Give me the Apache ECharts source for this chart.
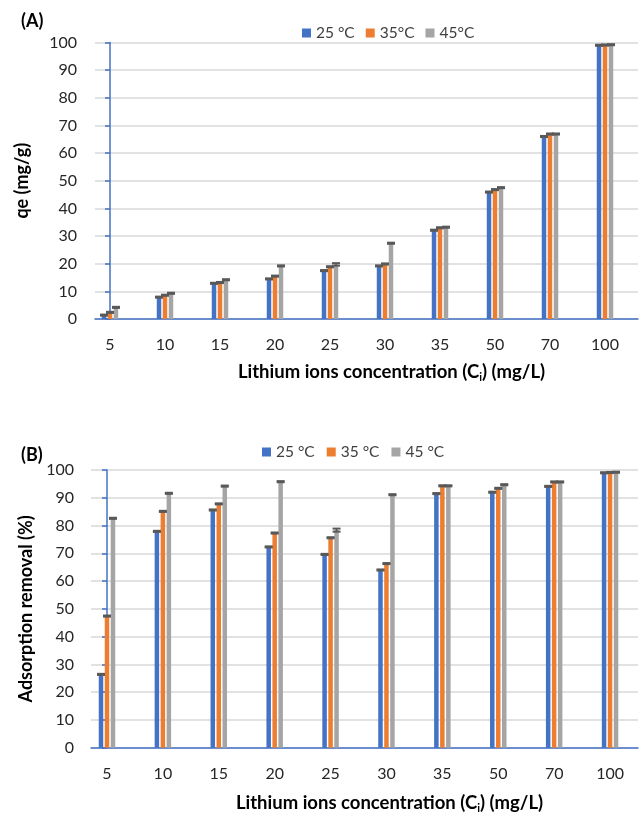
<!DOCTYPE html>
<html><head><meta charset="utf-8">
<script src="https://cdn.jsdelivr.net/npm/echarts@6/dist/echarts.min.js"></script>
<style>html,body{margin:0;padding:0;background:#fff}#c{width:640px;height:815px}</style>
</head><body><div id="c"></div>
<script>
// ---- data ----
const categories = ['5','10','15','20','25','30','35','50','70','100'];
const legendA = ['25 °C','35°C','45°C'];
const legendB = ['25 °C','35 °C','45 °C'];
// (A) qe (mg/g)
const qe25 = [1.4, 7.9, 12.9, 14.5, 17.5, 19.2, 32.1, 45.9, 66.0, 99.0];
const qe35 = [2.4, 8.6, 13.2, 15.5, 18.9, 19.9, 33.0, 46.8, 66.9, 99.1];
const qe45 = [4.2, 9.3, 14.2, 19.2, 19.75, 27.4, 33.2, 47.5, 66.9, 99.2];
const qeErr25 = [0.2, 0.2, 0.2, 0.2, 0.2, 0.2, 0.2, 0.2, 0.2, 0.2];
const qeErr35 = [0.2, 0.2, 0.2, 0.2, 0.2, 0.2, 0.2, 0.2, 0.2, 0.2];
const qeErr45 = [0.2, 0.2, 0.2, 0.2, 0.45, 0.2, 0.2, 0.2, 0.2, 0.2];
// (B) adsorption removal (%)
const rem25 = [26.4, 77.9, 85.6, 72.3, 69.6, 64.0, 91.5, 92.0, 94.1, 99.0];
const rem35 = [47.4, 85.1, 87.8, 77.3, 75.6, 66.3, 94.3, 93.4, 95.7, 99.1];
const rem45 = [82.6, 91.6, 94.2, 95.8, 78.35, 91.1, 94.3, 94.7, 95.7, 99.2];
const remErr25 = [0.2, 0.2, 0.2, 0.2, 0.2, 0.2, 0.2, 0.2, 0.2, 0.2];
const remErr35 = [0.2, 0.2, 0.2, 0.2, 0.2, 0.2, 0.2, 0.2, 0.2, 0.2];
const remErr45 = [0.2, 0.2, 0.2, 0.2, 0.55, 0.2, 0.2, 0.2, 0.2, 0.2];
const yTickInterval = 10;

// ---- style ----
const COLORS = ['#4472C4', '#ED7D31', '#A5A5A5'];
const FONT = 'Lato';
const BAR_W = 4.5, BAR_GAP = 0.33;
const STEP = BAR_W * (1 + BAR_GAP);

const chart = echarts.init(document.getElementById('c'), null, {renderer: 'canvas'});

function pts(arr) { return arr.map((v, i) => [i, v]); }
function errPts(vals, errs) { return vals.map((v, i) => [i, v, errs[i]]); }
function errRender(offset) {
  return function (params, api) {
    const x = api.value(0), v = api.value(1), e = api.value(2);
    const hi = api.coord([x, v + e]), lo = api.coord([x, v - e]);
    const cx = hi[0] + offset, hw = 4;
    const st = {stroke: '#595959', lineWidth: 2};
    return {type: 'group', children: [
      {type: 'line', shape: {x1: cx, y1: hi[1], x2: cx, y2: lo[1]}, style: {stroke: '#595959', lineWidth: 1.5}},
      {type: 'line', shape: {x1: cx - hw, y1: hi[1], x2: cx + hw, y2: hi[1]}, style: st},
      {type: 'line', shape: {x1: cx - hw, y1: lo[1], x2: cx + hw, y2: lo[1]}, style: st}
    ]};
  };
}
function barSeries(name, data, idx, g) {
  return {type: 'bar', name: name, xAxisIndex: g, yAxisIndex: g, data: pts(data),
    barWidth: BAR_W, barGap: (BAR_GAP * 100) + '%', itemStyle: {color: COLORS[idx]}, z: 2};
}
function errSeries(vals, errs, idx, g) {
  return {type: 'custom', xAxisIndex: g, yAxisIndex: g, data: errPts(vals, errs),
    renderItem: errRender((idx - 1) * STEP), encode: {x: 0, y: 1}, z: 5, silent: true, clip: false};
}
const xName = '{b|Lithium ions concentration (C}{s|i}{b|) (mg/L)}';
const xNameStyle = {padding: [0, 0, 0, 50], rich: {
  b: {fontFamily: FONT, fontWeight: 'bold', fontSize: 18.5, color: '#000', lineHeight: 22},
  s: {fontFamily: FONT, fontWeight: 'bold', fontSize: 11, color: '#000', verticalAlign: 'bottom', lineHeight: 15}
}};
function xAxis(g, min, max, nameGap) {
  return {type: 'value', gridIndex: g, min: min, max: max,
    splitLine: {show: false}, axisTick: {show: false},
    axisLine: {lineStyle: {color: '#4472C4', width: 1.5}},
    axisLabel: {customValues: categories.map((c, i) => i), formatter: v => categories[Math.round(v)],
      margin: 18, fontFamily: FONT, fontSize: 16, color: '#262626'},
    name: xName, nameLocation: 'middle', nameGap: nameGap, nameTextStyle: xNameStyle};
}
function yAxis(g, name, nameGap, margin) {
  return {type: 'value', gridIndex: g, min: 0, max: 100, interval: yTickInterval,
    axisLine: {show: true, lineStyle: {color: '#4472C4', width: 1.5}},
    axisTick: {show: true, length: 5, lineStyle: {color: '#4472C4', width: 1.5}},
    splitLine: {lineStyle: {color: '#D9D9D9', width: 1.5}},
    axisLabel: {margin: margin, fontFamily: FONT, fontSize: 16, color: '#262626'},
    name: name, nameLocation: 'middle', nameGap: nameGap,
    nameTextStyle: {fontFamily: FONT, fontWeight: 'bold', fontSize: 18, color: '#000'}};
}
const legendText = {fontFamily: FONT, fontSize: 15.5, color: '#404040'};
chart.setOption({
  animation: false,
  textStyle: {fontFamily: FONT},
  title: [
    {text: '(A)', left: 16, top: 7, textStyle: {fontFamily: FONT, fontWeight: 'bold', fontSize: 18, color: '#000'}},
    {text: '(B)', left: 16, top: 441, textStyle: {fontFamily: FONT, fontWeight: 'bold', fontSize: 18, color: '#000'}}
  ],
  legend: [
    {data: legendA, left: 297, top: 20, itemWidth: 9, itemHeight: 9, itemGap: 11, icon: 'rect', textStyle: legendText, selectedMode: false},
    {data: legendB, left: 257, top: 439, itemWidth: 9, itemHeight: 9, itemGap: 12, icon: 'rect', textStyle: legendText, selectedMode: false}
  ],
  grid: [
    {left: 95, top: 42.5, width: 543, height: 276.5},
    {left: 91, top: 470, width: 547, height: 277.7}
  ],
  xAxis: [xAxis(0, -0.2727, 9.6, 42), xAxis(1, -0.286, 9.5, 44)],
  yAxis: [yAxis(0, 'qe (mg/g)', 64, 18), yAxis(1, 'Adsorption removal (%)', 50, 17)],
  series: [
    barSeries(legendA[0], qe25, 0, 0), barSeries(legendA[1], qe35, 1, 0), barSeries(legendA[2], qe45, 2, 0),
    errSeries(qe25, qeErr25, 0, 0), errSeries(qe35, qeErr35, 1, 0), errSeries(qe45, qeErr45, 2, 0),
    barSeries(legendB[0], rem25, 0, 1), barSeries(legendB[1], rem35, 1, 1), barSeries(legendB[2], rem45, 2, 1),
    errSeries(rem25, remErr25, 0, 1), errSeries(rem35, remErr35, 1, 1), errSeries(rem45, remErr45, 2, 1)
  ]
});
</script></body></html>
